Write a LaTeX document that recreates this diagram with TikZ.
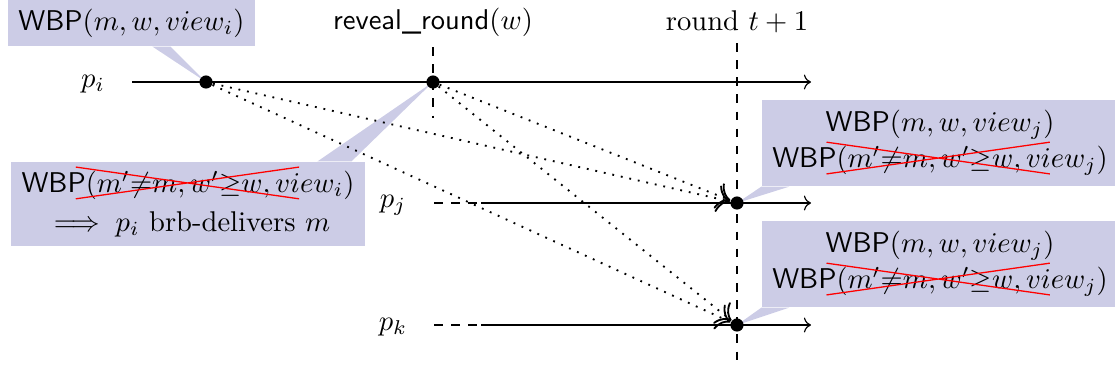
\documentclass[tikz,border=0pt]{standalone}
\usetikzlibrary{calc,arrows.meta}
\definecolor{callfill}{RGB}{204,204,230}
\newcommand{\xcross}[1]{\tikz[baseline=(xc.base)]{\node[inner sep=0pt,outer sep=0pt,draw=none,fill=none,minimum width=0pt,minimum height=0pt,anchor=center](xc){#1};\draw[overlay,red,line width=0.45pt,solid] ([shift={(-3.5pt,0.3pt)}]xc.south west) -- ([shift={(-5pt,1.4pt)}]xc.north east) ([shift={(-3.5pt,1.4pt)}]xc.north west) -- ([shift={(-5pt,0.3pt)}]xc.south east);}}
\begin{document}
\begin{tikzpicture}[x=0.35pt,y=-0.35pt,
  dot/.style={circle,fill=black,inner sep=0pt,minimum size=4.6pt},
  callbox/.style={fill=callfill,inner sep=0pt,align=center},
  procline/.style={->,line width=0.4pt},
  msgline/.style={-{To[scale=1.5]},line width=0.65pt,dash pattern=on 0.65pt off 2.4pt},
  vdash/.style={dashed,line width=0.4pt}]
\useasboundingbox (0,0) rectangle (1115,372);

% callout boxes
\node[callbox,minimum width=86.45pt,minimum height=16.1pt] (tb) at (131.5,23)
  {\textsf{WBP}$(m, w, view_i)$};
\node[callbox,minimum width=123.9pt,minimum height=29.4pt] (lb) at (188,204)
  {\textsf{WBP}\xcross{$(m'{\neq}m, w'{\geq}w, vie$}$w_i)$\\[1.6pt]$\;\Longrightarrow\; p_i$ brb-delivers $m$};
\node[callbox,minimum width=124.6pt,minimum height=30.1pt] (rb1) at (940,143)
  {\textsf{WBP}$(m, w, view_j)$\\[0.6pt]\textsf{WBP}\xcross{$(m'{\neq}m, w'{\geq}w, vie$}$w_j)$};
\node[callbox,minimum width=124.6pt,minimum height=30.1pt] (rb2) at (940,264)
  {\textsf{WBP}$(m, w, view_j)$\\[0.6pt]\textsf{WBP}\xcross{$(m'{\neq}m, w'{\geq}w, vie$}$w_j)$};

% event dots (positions)
\coordinate (a0) at (206,82);
\coordinate (b0) at (433,82);
\coordinate (cj0) at (737,203);
\coordinate (ck0) at (737,325);

% callout pointers
\fill[callfill] ($(tb.south west)+(145,0)$) -- ($(tb.south west)+(163,0)$) -- (a0) -- cycle;
\fill[callfill] ($(lb.north west)+(307,0)$) -- ($(lb.north west)+(341,0)$) -- (b0) -- cycle;
\fill[callfill] (rb1.south west) -- ($(rb1.south west)+(28,0)$) -- (cj0) -- cycle;
\fill[callfill] (rb2.south west) -- ($(rb2.south west)+(28,0)$) -- (ck0) -- cycle;

% labels on top
\node (revl) at (433,22) {\textsf{reveal\_round}$(w)$};
\node (rndl) at (737,22) {round $t+1$};

% vertical dashed lines
\coordinate (rv1) at (433,47);
\coordinate (rv2) at (433,118);
\coordinate (rd1) at (737,43);
\coordinate (rd2) at (737,363);
\draw[vdash] (rv1) -- (rv2);
\draw[vdash] (rd1) -- (rd2);

% process lines
\node (pil) at (93,84) {$p_i$};
\coordinate (pis) at (132,82);
\coordinate (pie) at (811,82);
\draw[procline] (pis) -- (pie);

\node (pjl) at (393,205) {$p_j$};
\coordinate (pjd) at (434,203);
\coordinate (pjs) at (481,203);
\coordinate (pje) at (811,203);
\draw[vdash] (pjd) -- (pjs);
\draw[procline] (pjs) -- (pje);

\node (pkl) at (393,327) {$p_k$};
\coordinate (pkd) at (434,325);
\coordinate (pks) at (481,325);
\coordinate (pke) at (811,325);
\draw[vdash] (pkd) -- (pks);
\draw[procline] (pks) -- (pke);

% dots
\node[dot] (a) at (a0) {};
\node[dot] (b) at (b0) {};
\node[dot] (cj) at (cj0) {};
\node[dot] (ck) at (ck0) {};

% messages
\draw[msgline] (a) -- (cj);
\draw[msgline] (a) -- (ck);
\draw[msgline] (b) -- (cj);
\draw[msgline] (b) -- (ck);
\end{tikzpicture}
\end{document}
